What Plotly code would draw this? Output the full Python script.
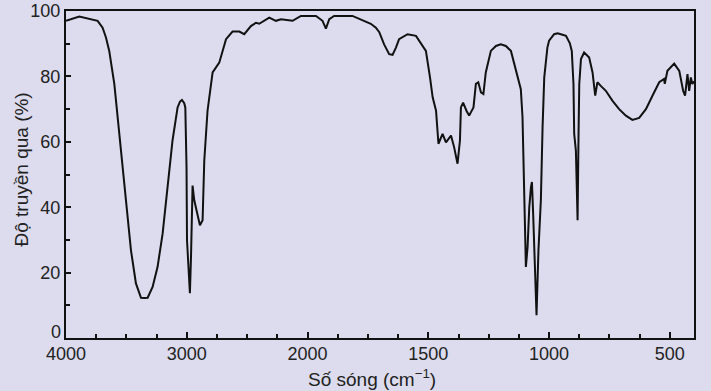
import plotly.graph_objects as go

# IR spectrum (wavenumber in cm^-1, transmittance in %)
wavenumber = [4000, 3890, 3738, 3697, 3669, 3642, 3600, 3559, 3517, 3503, 3462, 3421, 3379,
              3351, 3324, 3283, 3242, 3200, 3159, 3118, 3076, 3056, 3040, 3021, 3012, 3002,
              2998, 2988, 2974, 2965, 2957, 2952, 2938, 2924, 2911, 2891, 2869, 2855, 2828,
              2786, 2731, 2704, 2675, 2621, 2565, 2524, 2469, 2427, 2400, 2317, 2262, 2220,
              2124, 2055, 1965, 1938, 1924, 1910, 1890, 1814, 1765, 1738, 1717, 1703, 1683,
              1662, 1648, 1634, 1621, 1586, 1551, 1510, 1493, 1482, 1468, 1458, 1441, 1427,
              1406, 1393, 1379, 1369, 1365, 1356, 1342, 1331, 1313, 1303, 1293, 1282, 1272,
              1262, 1241, 1220, 1200, 1179, 1158, 1137, 1117, 1110, 1103, 1096, 1089, 1082,
              1075, 1071, 1066, 1058, 1052, 1044, 1034, 1027, 1020, 1007, 1000, 979, 965, 951,
              930, 914, 906, 899, 896, 889, 885, 882, 878, 875, 868, 855, 834, 820, 809, 800,
              786, 765, 738, 710, 682, 655, 627, 599, 572, 544, 524, 521, 510, 482, 461, 445,
              437, 427, 420, 413, 407, 400]
transmittance = [97.0, 98.3, 97.0, 94.9, 91.9, 87.8, 77.7, 62.5, 47.3, 42.1, 26.8, 16.7, 12.3,
                 12.2, 12.3, 15.6, 21.7, 31.9, 46.1, 60.4, 70.5, 72.3, 72.8, 71.8, 70.5, 52.2,
                 29.9, 23.8, 13.7, 24.8, 40.0, 46.6, 42.1, 40.0, 38.1, 34.5, 36.0, 54.3, 69.5,
                 81.2, 84.2, 87.8, 91.4, 93.7, 93.7, 92.9, 95.4, 96.4, 96.1, 98.0, 97.0, 97.5,
                 97.0, 98.5, 98.5, 97.0, 94.6, 97.5, 98.5, 98.5, 97.0, 96.1, 94.9, 93.5, 89.8,
                 86.8, 86.6, 88.8, 91.4, 92.9, 92.4, 87.8, 79.7, 73.6, 69.5, 59.4, 62.4, 59.8,
                 61.9, 58.3, 53.3, 60.4, 70.5, 72.0, 69.5, 68.0, 70.5, 77.7, 78.2, 75.1, 74.6,
                 81.2, 87.8, 89.3, 89.8, 89.3, 87.8, 81.7, 76.1, 67.5, 42.1, 21.7, 27.8, 40.0,
                 46.1, 47.7, 38.1, 18.7, 7.0, 26.8, 42.1, 64.4, 79.7, 88.8, 90.9, 92.9, 93.2, 92.9,
                 92.4, 90.1, 87.8, 77.7, 62.4, 57.3, 46.1, 36.0, 62.4, 77.7, 85.3, 87.3, 85.8,
                 81.2, 74.1, 78.2, 77.1, 75.6, 72.6, 70.0, 68.0, 66.7, 67.3, 70.0, 74.1, 78.2,
                 79.2, 77.7, 81.7, 83.9, 81.7, 75.6, 74.1, 80.7, 75.6, 79.7, 77.7, 78.5]

x_tick_labels = ["4000", "3000", "2000", "1500", "1000", "500"]
x_tick_wavenumbers = [4000, 3000, 2000, 1500, 1000, 500]
y_tick_values = [0, 20, 40, 60, 80, 100]
x_axis_end = 400  # right edge of the spectrum (cm^-1)
x_title = "Số sóng (cm<sup>−1</sup>)"
y_title = "Độ truyền qua (%)"


def scale(w):
    """Spectrometer axis: 1000 cm^-1 per division above 2000, 500 cm^-1 per division below."""
    return (4000 - w) / 1000 if w >= 2000 else 2 + (2000 - w) / 500


BG = "#dcdcee"
INK = "#111111"
TEXT = "#222222"
FONT = "Liberation Sans, Arial, sans-serif"

fig = go.Figure(go.Scatter(
    x=[scale(w) for w in wavenumber], y=transmittance,
    mode="lines", line=dict(color=INK, width=2), hoverinfo="skip"))

fig.update_layout(
    width=711, height=391,
    margin=dict(l=66, r=17, t=11, b=53),
    paper_bgcolor=BG, plot_bgcolor=BG,
    showlegend=False,
    font=dict(family=FONT, color=TEXT, size=18),
)
fig.update_xaxes(
    range=[0, scale(x_axis_end)], automargin=False,
    tickmode="array", tickvals=[scale(w) for w in x_tick_wavenumbers], ticktext=x_tick_labels,
    ticks="inside", ticklen=6, tickwidth=2, tickcolor=INK,
    minor=dict(tickmode="linear", tick0=0, dtick=0.25, ticks="inside", ticklen=4,
               tickwidth=2, tickcolor=INK),
    showline=True, linecolor=INK, linewidth=2, mirror=True,
    showgrid=False, zeroline=False,
    tickfont=dict(size=18), ticklabelstandoff=-2,
)
# the "0" label sits slightly raised (as in the reference) so it clears "4000"
y_tick_text = ["" if v == 0 else str(v) for v in y_tick_values]
fig.update_yaxes(
    range=[0, 100], automargin=False,
    tickmode="array", tickvals=y_tick_values, ticktext=y_tick_text,
    ticks="inside", ticklen=5, tickwidth=2, tickcolor=INK,
    minor=dict(tickmode="linear", tick0=0, dtick=10, ticks="inside", ticklen=4,
               tickwidth=2, tickcolor=INK),
    showline=True, linecolor=INK, linewidth=2, mirror=True,
    showgrid=False, zeroline=False,
    tickfont=dict(size=18),
)
fig.add_annotation(
    x=0, xref="paper", y=y_tick_values[0], yref="y", text=str(y_tick_values[0]),
    showarrow=False, xanchor="right", yanchor="middle", xshift=-3, yshift=6,
    font=dict(size=18, color=TEXT, family=FONT),
)
# axis titles placed as in the reference
fig.add_annotation(
    x=0, xref="paper", y=0.5, yref="paper", text=y_title, textangle=-90,
    showarrow=False, xanchor="center", yanchor="middle", xshift=-45, yshift=5,
    font=dict(size=19, color=TEXT, family=FONT),
)
fig.add_annotation(
    x=0.5, xref="paper", y=0, yref="paper", text=x_title,
    showarrow=False, xanchor="center", yanchor="middle", xshift=-8, yshift=-40,
    font=dict(size=19, color=TEXT, family=FONT),
)

fig.write_html(
    "out.html",
    config={"displayModeBar": False},
    post_script="document.body.style.margin='0';document.body.style.background='%s';" % BG,
)
